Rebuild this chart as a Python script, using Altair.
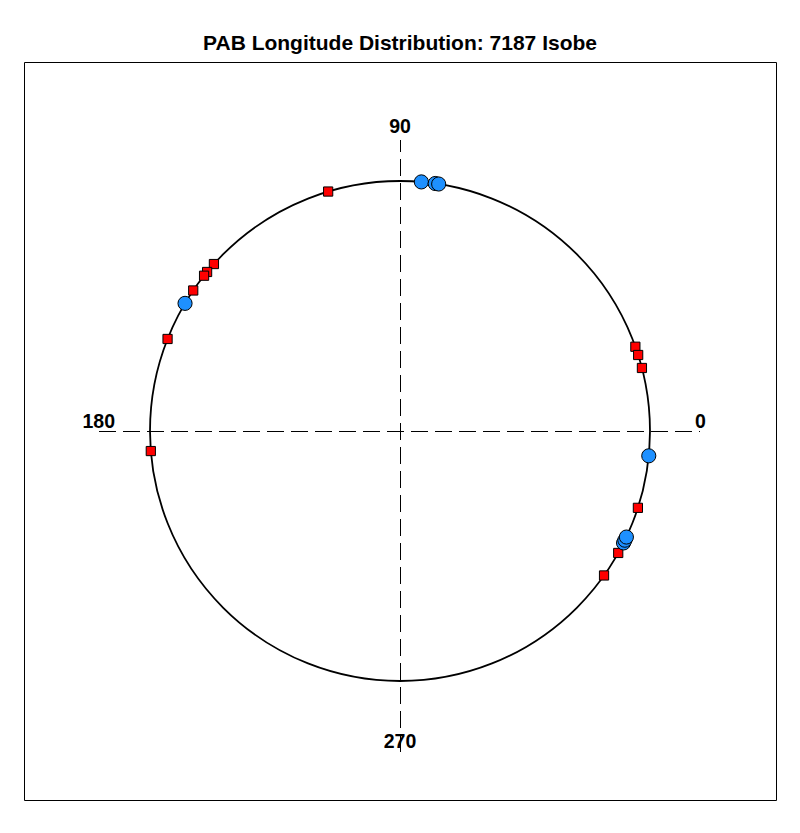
import altair as alt
import pandas as pd

# Longitudes (degrees)
red_angles = [106.7, 138.1, 140.5, 141.6, 145.8, 158.4, 184.6,
              19.7, 17.7, 14.6, 342.1, 330.8, 324.7]
blue_angles = [85.1, 81.9, 81.1, 149.3, 354.3, 333.4, 334.1, 334.9]

label_text = ["0", "90", "180", "270"]
label_x = [1.18, 0.0, -1.14, 0.0]
label_y = [0.012, 1.192, 0.012, -1.268]
label_align = ["left", "center", "right", "center"]

FONT = "Liberation Sans"
W, H = 752, 738
XD = [-1.504, 1.504]
YD = [-1.476, 1.476]
HALF = 0.5 / 250  # half-pixel nudge for crisp 1px rules

xs = alt.Scale(domain=XD, nice=False, zero=False)
ys = alt.Scale(domain=YD, nice=False, zero=False)

red = pd.DataFrame({"angle": red_angles})
blue = pd.DataFrame({"angle": blue_angles})

def pos(df):
    return alt.Chart(df).transform_calculate(
        px="cos(datum.angle*PI/180)", py="sin(datum.angle*PI/180)"
    )

# reference circle (unit radius => 250 px, symbol size = diameter^2)
ring = alt.Chart(pd.DataFrame({"x": [0.0], "y": [0.0]})).mark_point(
    shape="circle", filled=False, stroke="black", strokeWidth=1.8,
    size=500 * 500, opacity=1
).encode(x=alt.X("x:Q", scale=xs, axis=None), y=alt.Y("y:Q", scale=ys, axis=None))

hline = alt.Chart(pd.DataFrame({"x": [-1.204], "x2": [1.2], "y": [-HALF]})).mark_rule(
    color="black", strokeWidth=1, strokeDash=[17, 7]
).encode(x=alt.X("x:Q", scale=xs, axis=None), x2="x2:Q", y=alt.Y("y:Q", scale=ys, axis=None))

vline = alt.Chart(pd.DataFrame({"x": [HALF], "y": [-1.284], "y2": [1.164]})).mark_rule(
    color="black", strokeWidth=1, strokeDash=[17, 7]
).encode(x=alt.X("x:Q", scale=xs, axis=None), y=alt.Y("y:Q", scale=ys, axis=None), y2="y2:Q")

squares = pos(red).mark_point(
    shape="square", filled=True, fill="#ff0000", stroke="black", strokeWidth=1,
    size=85, opacity=1
).encode(x=alt.X("px:Q", scale=xs, axis=None), y=alt.Y("py:Q", scale=ys, axis=None))

circles = pos(blue).mark_point(
    shape="circle", filled=True, fill="#1e90ff", stroke="black", strokeWidth=1,
    size=200, opacity=1
).encode(x=alt.X("px:Q", scale=xs, axis=None), y=alt.Y("py:Q", scale=ys, axis=None))

labels_df = pd.DataFrame({"t": label_text, "x": label_x, "y": label_y, "a": label_align})
labels = []
for al in ["left", "center", "right"]:
    labels.append(
        alt.Chart(labels_df).transform_filter(alt.datum.a == al).mark_text(
            font=FONT, fontSize=19.5, fontWeight="bold", color="black",
            align=al, baseline="alphabetic"
        ).encode(x=alt.X("x:Q", scale=xs, axis=None), y=alt.Y("y:Q", scale=ys, axis=None), text="t:N")
    )

chart = alt.layer(ring, hline, vline, squares, circles, *labels).properties(
    width=W, height=H,
    title=alt.TitleParams(
        "PAB Longitude Distribution: 7187 Isobe",
        font=FONT, fontSize=21, fontWeight="bold", color="black",
        anchor="middle", offset=-13, baseline="bottom", frame="group"
    ),
    autosize=alt.AutoSizeParams(type="none"),
    padding={"left": 24, "top": 62, "right": 24, "bottom": 33},
    background="white",
).configure_view(stroke="black", strokeWidth=1)

chart.save("out.html", embed_options={"renderer": "svg", "actions": False})
